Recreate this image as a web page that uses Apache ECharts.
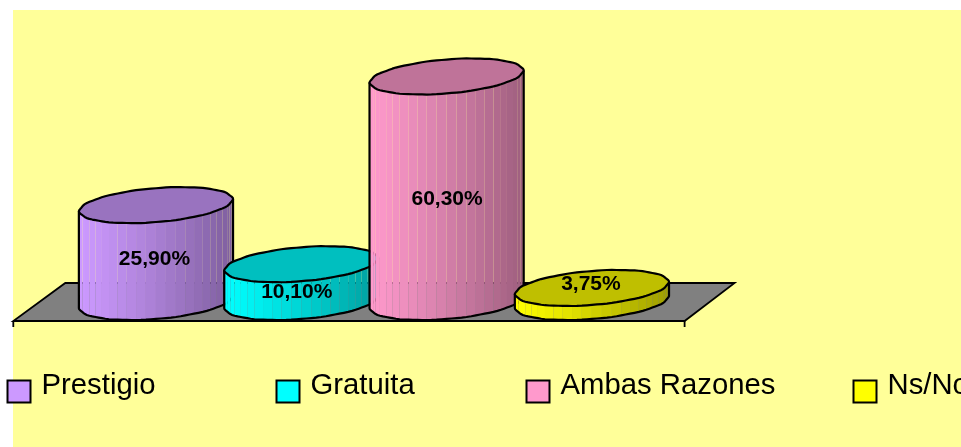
<!DOCTYPE html>
<html><head><meta charset="utf-8">
<style>html,body{margin:0;padding:0;background:#fff;overflow:hidden}#c{width:961px;height:447px}</style>
<script src="https://cdn.jsdelivr.net/npm/echarts@6/dist/echarts.min.js"></script>
</head><body><div id="c"></div>
<script>
var categories = ['Prestigio', 'Gratuita', 'Ambas Razones', 'Ns/No'];
var values = [25.9, 10.1, 60.3, 3.75];
var valueLabels = ['25,90%', '10,10%', '60,30%', '3,75%'];
var colors = ['#CC99FF', '#00FFFF', '#FF99CC', '#FFFF00'];
var labelShiftX = [-1.5, -4.5, 0.5, -1];
var labelShiftY = [6, 9.5, 10, -11];
var legendLeft = [6.5, 275.5, 525.5, 852.5];

function shade(hex, k) {
  var n = parseInt(hex.slice(1), 16);
  var f = function (v) { return Math.round(v * k); };
  return 'rgb(' + f(n >> 16 & 255) + ',' + f(n >> 8 & 255) + ',' + f(n & 255) + ')';
}
var STEPS = 96;
function ringPoint(cx, cy, a, b, tilt, t) {
  var w = 1 + 0.007 * Math.sin(14 * t + 1.2);
  return [cx + a * Math.cos(t) * w, cy + (-tilt * Math.cos(t) - b * Math.sin(t)) * w];
}
function cylinderItem(idx) {
  return function (params, api) {
    var cat = api.value(0), val = api.value(1);
    var top = api.coord([cat, val]), base = api.coord([cat, 0]);
    var w = api.size([1, 0])[0];
    var a = w * 0.527, b = a * 0.222, tilt = a * 0.078;
    var cx = top[0], ty = top[1], by = base[1], color = colors[idx];
    var children = [], i, t;
    var frontSteps = STEPS / 2;
    var outline = [];
    for (i = 0; i <= frontSteps; i++) {
      t = Math.PI + i / frontSteps * Math.PI;
      outline.push(ringPoint(cx, by, a, b, tilt, t));
    }
    var facets = 24;
    for (i = 0; i < facets; i++) {
      var t0 = Math.PI + i / facets * Math.PI, t1 = Math.PI + (i + 1) / facets * Math.PI;
      var n0 = Math.round(i / facets * frontSteps), n1 = Math.round((i + 1) / facets * frontSteps);
      var pts = [];
      var j;
      for (j = n0; j <= n1; j++) pts.push(outline[j]);
      pts.push(ringPoint(cx, ty, a, b, tilt, Math.PI + n1 / frontSteps * Math.PI),
               ringPoint(cx, ty, a, b, tilt, Math.PI + n0 / frontSteps * Math.PI));
      var mid = (Math.cos((t0 + t1) / 2) + 1) / 2;
      var k = 1 - 0.38 * Math.pow(mid, 1.15);
      children.push({ type: 'polygon', shape: { points: pts }, style: { fill: shade(color, k), stroke: null } });
    }
    var sil = [ringPoint(cx, ty, a, b, tilt, Math.PI)].concat(outline, [ringPoint(cx, ty, a, b, tilt, 0)]);
    children.push({ type: 'polyline', shape: { points: sil }, style: { fill: null, stroke: '#000', lineWidth: 2.2, lineJoin: 'round' } });
    var cap = [];
    for (i = 0; i < STEPS; i++) cap.push(ringPoint(cx, ty, a, b, tilt, i / STEPS * 2 * Math.PI));
    children.push({ type: 'polygon', shape: { points: cap }, style: { fill: shade(color, 0.75), stroke: '#000', lineWidth: 2.2, lineJoin: 'round' } });
    children.push({ type: 'text', style: {
      x: cx + labelShiftX[idx], y: (ty + by) / 2 + labelShiftY[idx], text: valueLabels[idx],
      fill: '#000', font: 'bold 21px "Liberation Sans", Arial, sans-serif', align: 'center', verticalAlign: 'middle' } });
    return { type: 'group', children: children };
  };
}
function floorItem(params) {
  var g = params.coordSys, x0 = g.x - 70, x1 = g.x + g.width + 20, b = g.y + g.height;
  return { type: 'group', children: [
    { type: 'polygon', shape: { points: [[x0, b + 19], [x1, b + 19], [x1 + 50, b - 19], [x0 + 52, b - 19]] },
      style: { fill: '#808080', stroke: '#000', lineWidth: 1.8 } },
    { type: 'line', shape: { x1: x0, y1: b + 19, x2: x0, y2: b + 25 }, style: { stroke: '#000', lineWidth: 1.8 } },
    { type: 'line', shape: { x1: x1, y1: b + 19, x2: x1, y2: b + 25 }, style: { stroke: '#000', lineWidth: 1.8 } }
  ] };
}
var series = [{ type: 'custom', name: '_floor', silent: true, data: [[0, 0]], encode: { x: 0, y: 1 }, renderItem: floorItem, z: 1, clip: false }];
categories.forEach(function (name, i) {
  series.push({ type: 'custom', name: name, data: [[i, values[i]]], encode: { x: 0, y: 1 },
    renderItem: cylinderItem(i), itemStyle: { color: colors[i] }, z: 2 + i, clip: false });
});
var chart = echarts.init(document.getElementById('c'), null, { renderer: 'canvas' });
chart.setOption({
  animation: false,
  backgroundColor: '#fff',
  graphic: [{ type: 'rect', silent: true, z: -10, shape: { x: 13, y: 10, width: 948, height: 437 }, style: { fill: '#FFFF99' } }],
  grid: { left: 83.3, width: 581.3, top: 2.8, height: 299.2 },
  xAxis: { type: 'category', show: false, data: categories },
  yAxis: { type: 'value', show: false, min: 0, max: 80 },
  legend: categories.map(function (name, i) {
    return { data: [{ name: name, icon: 'rect' }], left: legendLeft[i], top: 371, padding: 0, itemWidth: 23, itemHeight: 22,
      selectedMode: false,
      formatter: '{t|{name}}',
      itemStyle: { borderColor: '#000', borderWidth: 2 },
      textStyle: { rich: { t: { fontFamily: '"Liberation Sans", Arial, sans-serif', fontSize: 29.3, color: '#000', padding: [0, 0, 12, 6] } } } };
  }),
  series: series
});
</script></body></html>
